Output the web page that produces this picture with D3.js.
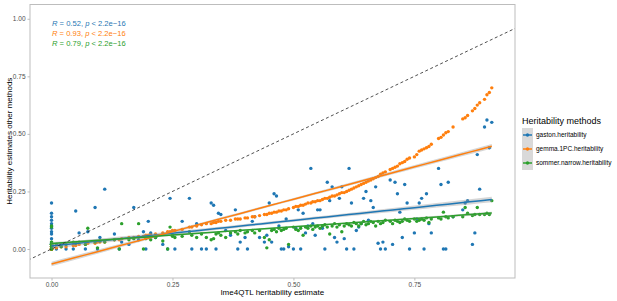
<!DOCTYPE html>
<html>
<head>
<meta charset="utf-8">
<script src="https://cdn.jsdelivr.net/npm/d3@7"></script>
<style>
  body { margin: 0; background: #fff; }
  svg { font-family: "Liberation Sans", Arial, sans-serif; }
</style>
</head>
<body>
<div id="chart"></div>
<script>
// lme4QTL estimate per locus (x), and the three other methods (y)
const lme4qtl = [
  0, 0, 0, 0, 0, 0, 0, 0, 0, 0, 0, 0, 0, 0,
  0.01, 0.02, 0.03, 0.045, 0.05, 0.057, 0.07, 0.075, 0.09, 0.095,
  0.10, 0.11, 0.13, 0.14, 0.145, 0.16, 0.17, 0.18, 0.19, 0.195,
  0.20, 0.205, 0.215, 0.23, 0.24, 0.245, 0.25, 0.255, 0.27, 0.285,
  0.29, 0.30, 0.31, 0.32, 0.33, 0.335, 0.34, 0.345, 0.35, 0.36,
  0.37, 0.38, 0.385, 0.39, 0.40, 0.405, 0.415, 0.42, 0.43, 0.44,
  0.445, 0.45, 0.455, 0.46, 0.465, 0.47, 0.475, 0.48, 0.485, 0.49,
  0.50, 0.505, 0.51, 0.515, 0.52, 0.525, 0.53, 0.536, 0.54, 0.545,
  0.55, 0.555, 0.56, 0.565, 0.57, 0.575, 0.58, 0.585, 0.59, 0.595,
  0.60, 0.605, 0.61, 0.615, 0.62, 0.625, 0.63, 0.635, 0.64, 0.645,
  0.65, 0.655, 0.66, 0.665, 0.67, 0.675, 0.68, 0.685, 0.69, 0.70,
  0.705, 0.71, 0.715, 0.72, 0.725, 0.73, 0.735, 0.74, 0.75, 0.755,
  0.76, 0.765, 0.77, 0.775, 0.78, 0.785, 0.80, 0.805, 0.81, 0.815,
  0.82, 0.83, 0.85, 0.855, 0.86, 0.87, 0.875, 0.88, 0.885, 0.895,
  0.90, 0.905, 0.91
];
const gaston = [
  0.00, 0.00, 0.01, 0.025, 0.045, 0.075, 0.09, 0.10, 0.11, 0.125, 0.14, 0.155, 0.20, 0.065,
  0.00, 0.02, 0.00, 0.00, 0.165, 0.07, 0.00, 0.075, 0.18, 0.00,
  0.05, 0.26, 0.065, 0.00, 0.03, 0.02, 0.18, 0.04, 0.075, 0.00,
  0.12, 0.07, 0.05, 0.02, 0.00, 0.22, 0.06, 0.00, 0.12, 0.22,
  0.00, 0.11, 0.00, 0.00, 0.20, 0.19, 0.00, 0.155, 0.15, 0.08,
  0.06, 0.17, 0.00, 0.03, 0.05, 0.00, 0.12, 0.14, 0.05, 0.03,
  0.06, 0.20, 0.03, 0.24, 0.23, 0.10, 0.00, 0.00, 0.13, 0.01,
  0.00, 0.09, 0.17, 0.00, 0.155, 0.07, 0.10, 0.35, 0.11, 0.06,
  0.17, 0.17, 0.09, 0.00, 0.29, 0.21, 0.27, 0.05, 0.03, 0.22,
  0.27, 0.045, 0.00, 0.35, 0.20, 0.00, 0.08, 0.095, 0.11, 0.22,
  0.25, 0.125, 0.21, 0.18, 0.27, 0.025, 0.00, 0.03, 0.00, 0.30,
  0.02, 0.29, 0.24, 0.16, 0.05, 0.28, 0.20, 0.00, 0.07, 0.13,
  0.20, 0.22, 0.00, 0.24, 0.11, 0.07, 0.35, 0.28, 0.00, 0.00,
  0.29, 0.14, 0.17, 0.20, 0.21, 0.02, 0.07, 0.41, 0.26, 0.53,
  0.56, 0.44, 0.55
];
const gemma = [
  0.00, 0.01, 0.00, 0.00, 0.01, 0.00, 0.00, 0.01, 0.00, 0.00, 0.01, 0.00, 0.00, 0.00,
  0.005, 0.01, 0.01, 0.015, 0.015, 0.02, 0.02, 0.025, 0.025, 0.03,
  0.03, 0.03, 0.04, 0.04, 0.045, 0.05, 0.05, 0.055, 0.055, 0.06,
  0.06, 0.06, 0.065, 0.07, 0.075, 0.075, 0.08, 0.08, 0.085, 0.095,
  0.095, 0.10, 0.105, 0.11, 0.11, 0.115, 0.115, 0.12, 0.12, 0.125,
  0.125, 0.13, 0.13, 0.13, 0.135, 0.135, 0.14, 0.14, 0.145, 0.15,
  0.15, 0.155, 0.155, 0.16, 0.16, 0.165, 0.165, 0.17, 0.17, 0.175,
  0.18, 0.185, 0.185, 0.19, 0.19, 0.195, 0.20, 0.20, 0.205, 0.205,
  0.21, 0.21, 0.215, 0.22, 0.22, 0.225, 0.23, 0.23, 0.235, 0.24,
  0.245, 0.245, 0.25, 0.255, 0.26, 0.265, 0.27, 0.275, 0.28, 0.285,
  0.29, 0.295, 0.30, 0.305, 0.31, 0.315, 0.325, 0.33, 0.335, 0.345,
  0.35, 0.355, 0.36, 0.37, 0.375, 0.38, 0.39, 0.395, 0.40, 0.41,
  0.425, 0.43, 0.435, 0.44, 0.445, 0.455, 0.48, 0.485, 0.495, 0.505,
  0.51, 0.53, 0.565, 0.57, 0.58, 0.60, 0.61, 0.625, 0.635, 0.65,
  0.67, 0.68, 0.70
];
const sommer = [
  0.02, 0.00, 0.01, 0.02, 0.03, 0.10, 0.02, 0.095, 0.03, 0.02, 0.01, 0.02, 0.00, 0.01,
  0.02, 0.01, 0.02, 0.03, 0.025, 0.03, 0.02, 0.09, 0.03, 0.005,
  0.035, 0.03, 0.04, 0.00, 0.11, 0.04, 0.045, 0.11, 0.00, 0.045,
  0.05, 0.04, 0.05, 0.035, 0.00, 0.095, 0.055, 0.05, 0.055, 0.075,
  0.06, 0.05, 0.065, 0.05, 0.04, 0.045, 0.065, 0.07, 0.06, 0.05,
  0.07, 0.075, 0.065, 0.08, 0.07, 0.075, 0.08, 0.07, 0.08, 0.05,
  0.005, 0.04, 0.08, 0.085, 0.075, 0.09, 0.08, 0.085, 0.09, 0.02,
  0.095, 0.085, 0.08, 0.09, 0.06, 0.095, 0.09, 0.10, 0.085, 0.095,
  0.10, 0.09, 0.10, 0.105, 0.095, 0.065, 0.10, 0.11, 0.095, 0.105,
  0.075, 0.10, 0.11, 0.105, 0.10, 0.115, 0.11, 0.10, 0.11, 0.12,
  0.105, 0.11, 0.12, 0.115, 0.10, 0.12, 0.11, 0.115, 0.125, 0.12,
  0.11, 0.125, 0.12, 0.115, 0.12, 0.13, 0.125, 0.12, 0.13, 0.12,
  0.125, 0.13, 0.125, 0.135, 0.115, 0.13, 0.135, 0.13, 0.16, 0.14,
  0.135, 0.14, 0.14, 0.18, 0.155, 0.145, 0.15, 0.18, 0.15, 0.15,
  0.155, 0.15, 0.21
];

const methods = ["gaston.heritability", "gemma.1PC.heritability", "sommer.narrow.heritability"];
const methodValues = [gaston, gemma, sommer];
const colors = ["#1f77b4", "#ff7f0e", "#2ca02c"];
// linear fits: [intercept, slope], and band half-width at the ends
const fitIntercept = [0.013, -0.065, 0.024];
const fitSlope = [0.222, 0.562, 0.145];
const bandEdge = [0.012, 0.01, 0.006];
const corLabels = ["0.52", "0.93", "0.79"];
const xTicks = [0, 0.25, 0.5, 0.75];
const yTicks = [0, 0.25, 0.5, 0.75, 1];

const W = 617, H = 301;
const panel = { left: 30, right: 515, top: 4.5, bottom: 278 };

const svg = d3.select("#chart").append("svg")
  .attr("width", W).attr("height", H);

const x = d3.scaleLinear().domain([-0.0445, 0.958]).range([panel.left, panel.right]);
const y = d3.scaleLinear().domain([-0.126, 1.062]).range([panel.bottom, panel.top]);

const plot = svg.append("g");
plot.append("clipPath").attr("id", "clip")
  .append("rect")
  .attr("x", panel.left).attr("y", panel.top)
  .attr("width", panel.right - panel.left).attr("height", panel.bottom - panel.top);

const layer = plot.append("g").attr("clip-path", "url(#clip)");

// points
methods.forEach((m, i) => {
  layer.append("g").selectAll("circle")
    .data(lme4qtl.map((xv, j) => ({ x: xv, y: methodValues[i][j] })))
    .join("circle")
    .attr("cx", d => x(d.x))
    .attr("cy", d => y(d.y))
    .attr("r", 1.7)
    .attr("fill", colors[i]);
});

// fit lines with confidence band (band shape from the usual OLS se formula)
const xMin = d3.min(lme4qtl), xMax = d3.max(lme4qtl);
const n = lme4qtl.length;
const xbar = d3.mean(lme4qtl);
const sxx = d3.sum(lme4qtl, v => (v - xbar) ** 2);
const seShape = g => Math.sqrt(1 / n + (g - xbar) ** 2 / sxx);
const seMax = Math.max(seShape(xMin), seShape(xMax));
const grid = d3.range(0, 41).map(k => xMin + (xMax - xMin) * k / 40);

methods.forEach((m, i) => {
  const a = fitIntercept[i], b = fitSlope[i];
  const band = grid.map(g => {
    const se = bandEdge[i] * seShape(g) / seMax;
    return { x: g, lo: a + b * g - se, hi: a + b * g + se };
  });
  layer.append("path")
    .attr("d", d3.area().x(d => x(d.x)).y0(d => y(d.lo)).y1(d => y(d.hi))(band))
    .attr("fill", "#999")
    .attr("opacity", 0.4);
  layer.append("path")
    .attr("d", d3.line().x(d => x(d.x)).y(d => y(a + b * d.x))(band))
    .attr("fill", "none")
    .attr("stroke", colors[i])
    .attr("stroke-width", 1.5);
});

// y = x reference
layer.append("path")
  .attr("d", d3.line()([[x(-0.1), y(-0.1)], [x(1.1), y(1.1)]]))
  .attr("stroke", "#222")
  .attr("stroke-width", 0.8)
  .attr("stroke-dasharray", "3,2.5")
  .attr("fill", "none");

// panel border
plot.append("rect")
  .attr("x", panel.left).attr("y", panel.top)
  .attr("width", panel.right - panel.left).attr("height", panel.bottom - panel.top)
  .attr("fill", "none")
  .attr("stroke", "#bdbdbd")
  .attr("stroke-width", 1);

// axes
const fmt = d3.format(".2f");
const xAxis = svg.append("g")
  .attr("transform", `translate(0,${panel.bottom})`)
  .call(d3.axisBottom(x).tickValues(xTicks).tickFormat(fmt).tickSize(2.5).tickPadding(2));
const yAxis = svg.append("g")
  .attr("transform", `translate(${panel.left},0)`)
  .call(d3.axisLeft(y).tickValues(yTicks).tickFormat(fmt).tickSize(2.5).tickPadding(2));
[xAxis, yAxis].forEach(ax => {
  ax.select(".domain").remove();
  ax.selectAll("line").attr("stroke", "#bdbdbd");
  ax.selectAll("text").attr("fill", "#4d4d4d").attr("font-size", 6.5)
    .attr("font-family", "Liberation Sans, Arial, sans-serif");
});

svg.append("text")
  .attr("x", (panel.left + panel.right) / 2)
  .attr("y", 295)
  .attr("text-anchor", "middle")
  .attr("font-size", 8)
  .text("lme4QTL heritability estimate");

svg.append("text")
  .attr("transform", `translate(12,${(panel.top + panel.bottom) / 2}) rotate(-90)`)
  .attr("text-anchor", "middle")
  .attr("font-size", 8)
  .text("Heritability estimates other methods");

// correlation labels
corLabels.forEach((r, i) => {
  const t = svg.append("text")
    .attr("x", 52)
    .attr("y", 26 + i * 10)
    .attr("font-size", 7.6)
    .attr("fill", colors[i]);
  t.append("tspan").attr("font-style", "italic").text("R");
  t.append("tspan").text(` = ${r}, `);
  t.append("tspan").attr("font-style", "italic").text("p");
  t.append("tspan").text(" < 2.2e\u221216");
});

// legend
const legend = svg.append("g").attr("transform", "translate(522,0)");
legend.append("text")
  .attr("x", 0).attr("y", 124)
  .attr("font-size", 9)
  .text("Heritability methods");

const keys = legend.selectAll(".key")
  .data(methods)
  .join("g")
  .attr("class", "key")
  .attr("transform", (d, i) => `translate(0,${128 + i * 14})`);

keys.append("rect")
  .attr("width", 11).attr("height", 14)
  .attr("fill", "#d9d9d9");
keys.append("line")
  .attr("x1", 1).attr("x2", 10)
  .attr("y1", 7).attr("y2", 7)
  .attr("stroke", (d, i) => colors[i])
  .attr("stroke-width", 1.5);
keys.append("circle")
  .attr("cx", 5.5).attr("cy", 7).attr("r", 1.7)
  .attr("fill", (d, i) => colors[i]);
keys.append("text")
  .attr("x", 14).attr("y", 7)
  .attr("dy", "0.35em")
  .attr("font-size", 6.5)
  .text(d => d);
</script>
</body>
</html>
